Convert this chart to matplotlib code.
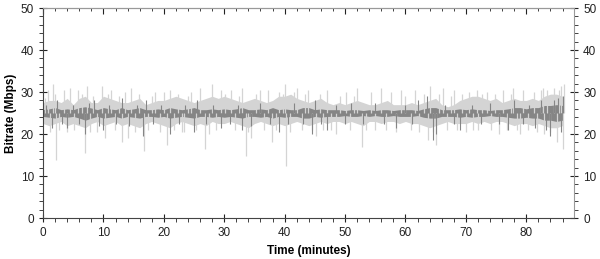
import matplotlib.pyplot as plt
import numpy as np

plt.rcParams['font.family'] = ['Liberation Sans', 'DejaVu Sans']

# time bins (minutes)
minutes = np.arange(0, 87)

# light grey band (peak bitrate), per minute
light_hi = [27.5, 28, 28, 27.5, 28.5, 27, 28.5, 29, 27.5, 27.5,
            29, 28.5, 28, 27.5, 27.5, 28, 28.5, 27, 27.5, 28,
            28, 28.5, 29, 28.5, 28, 27.5, 28, 28.5, 29, 28.5,
            29, 28.5, 28, 27.5, 28, 28.5, 28, 27.5, 28, 29,
            29, 29.5, 28.5, 28, 27.5, 28, 28.5, 27.5, 27, 27.5,
            27, 27.5, 28, 27.5, 27, 27, 27.5, 28, 27, 27,
            27, 27.5, 27, 27.5, 28, 28.5, 27, 26.5, 27, 28,
            28.5, 29, 29, 28.5, 28, 28.5, 27.5, 28, 28.5, 28,
            28, 28.5, 28, 29, 29.5, 29.5, 29]
light_lo = [22.5, 22, 22.5, 23, 22, 22.5, 22, 21.5, 22.5, 23,
            22, 22.5, 23, 22, 22.5, 22, 21.5, 22.5, 23, 22.5,
            22, 21.5, 22.5, 23, 22.5, 22, 22.5, 22, 23, 22.5,
            22.5, 23, 22.5, 22, 21.5, 22.5, 23, 22.5, 22, 22.5,
            22, 22.5, 23, 22.5, 22, 22.5, 23, 22.5, 23, 23,
            22.5, 23, 22.5, 22, 23, 23, 22.5, 23, 23, 22.5,
            23, 22.5, 22.5, 22, 21.5, 22, 22.5, 23, 22.5, 22.5,
            22.5, 23, 22.5, 23, 22.5, 23, 23, 22.5, 22, 22.5,
            22.5, 22, 22.5, 22, 21.5, 21.5, 22]
# dark grey band (average bitrate), per minute
dark_hi = [25.8, 26, 26.3, 25.8, 26, 25.8, 26.3, 26.5, 26.2, 25.8,
           26.3, 26, 25.8, 26.3, 25.8, 26, 26.3, 25.8, 25.8, 26,
           25.8, 26.3, 26, 25.8, 26, 26.3, 25.8, 25.8, 26, 25.8,
           26, 25.8, 26, 26.3, 25.8, 25.8, 26, 25.8, 26.3, 25.8,
           26, 25.8, 25.8, 26.3, 26.3, 25.8, 26, 25.8, 25.8, 25.8,
           25.6, 25.8, 25.8, 25.6, 25.8, 25.6, 25.8, 25.8, 25.6, 25.8,
           25.8, 25.8, 25.6, 26, 26.3, 26.3, 25.8, 25.8, 25.8, 26,
           25.8, 26, 25.8, 25.8, 25.6, 25.8, 25.8, 26, 26.3, 26.3,
           26, 26.3, 26.3, 26.8, 26.8, 27, 26.8]
dark_lo = [24.2, 24, 23.8, 24.2, 24, 24.2, 23.8, 23.3, 23.8, 24.2,
           23.8, 24, 24.2, 23.8, 24.2, 24, 23.8, 24.2, 24.2, 24,
           24.2, 23.8, 24, 24.2, 24, 23.8, 24.2, 24.2, 24, 24.2,
           24, 24.2, 24, 23.8, 24.2, 24.2, 24, 24.2, 23.8, 24.2,
           24, 24.2, 24.2, 23.8, 23.8, 24.2, 24, 24.2, 24.2, 24.2,
           24.4, 24.2, 24.2, 24.4, 24.2, 24.4, 24.2, 24.2, 24.4, 24.2,
           24.2, 24.2, 24.4, 24, 23.8, 23.8, 24.2, 24.2, 24.2, 24,
           24.2, 24, 24.2, 24.2, 24.4, 24.2, 24.2, 24, 23.8, 23.8,
           24, 23.8, 23.8, 23.3, 23.3, 23, 23.3]

# single-frame spikes of the light series
light_spike_t = [0.3, 0.8, 1.2, 1.6, 2.0, 2.2, 2.7, 3.4, 3.9, 4.5, 5.2, 5.8,
                 6.4, 6.9, 7.2, 7.7, 8.3, 9.0, 9.8, 10.3, 10.8, 11.2, 11.9,
                 12.5, 13.0, 13.5, 14.0, 14.6, 15.3, 15.9, 16.7, 17.4, 18.0,
                 18.5, 19.3, 20.1, 20.5, 21.0, 21.7, 22.4, 23.0, 23.4, 24.0,
                 24.5, 25.3, 26.0, 26.8, 27.4, 28.0, 28.7, 29.5, 30.2, 31.2,
                 31.8, 32.4, 33.0, 33.6, 34.0, 34.5, 35.2, 36.0, 36.6, 37.2,
                 37.9, 38.5, 39.1, 39.7, 40.0, 40.3, 40.9, 41.5, 42.0, 42.8,
                 43.3, 43.8, 44.5, 45.2, 45.9, 46.4, 47.0, 47.7, 48.5, 49.2,
                 50.2, 50.8, 51.4, 52.0, 52.8, 53.4, 54.3, 55.0, 56.0, 56.7,
                 57.6, 58.4, 59.3, 60.0, 60.9, 61.5, 62.2, 63.0, 63.8, 64.1,
                 64.6, 65.0, 65.6, 66.2, 66.9, 67.5, 68.0, 68.5, 69.3, 70.0,
                 70.5, 71.2, 71.8, 72.0, 72.7, 73.5, 74.2, 74.8, 75.5, 76.2,
                 76.8, 77.4, 77.8, 78.5, 79.0, 79.5, 80.3, 81.2, 81.8, 82.4,
                 82.8, 83.0, 83.5, 84.0, 84.6, 85.0, 85.4, 85.7, 86.0, 86.3]
light_spike_v = [28.5, 30.5, 20.5, 31.8, 29.5, 13.8, 21.0, 30.5, 20.5, 31.0, 21.0, 30.5,
                 29.5, 15.5, 31.5, 20.5, 29.0, 20.5, 31.5, 19.0, 29.5, 30.5, 21.0,
                 29.0, 18.0, 30.0, 19.0, 31.0, 20.5, 29.5, 16.0, 21.0, 29.0,
                 30.0, 20.5, 30.0, 17.5, 30.5, 21.0, 29.5, 20.5, 20.5, 29.0,
                 30.0, 21.0, 31.0, 16.5, 20.0, 32.0, 21.0, 30.5, 29.5, 30.5,
                 21.0, 29.0, 31.0, 14.8, 20.5, 19.0, 29.5, 30.5, 21.0, 30.5,
                 18.0, 21.0, 30.0, 29.5, 32.0, 12.5, 20.5, 30.0, 31.0, 21.0,
                 29.5, 30.5, 21.0, 19.5, 29.5, 21.0, 30.5, 21.0, 20.0, 29.0,
                 30.0, 21.0, 29.0, 31.0, 17.0, 21.0, 30.0, 21.0, 31.0, 21.0,
                 30.0, 20.5, 30.5, 29.0, 21.0, 30.5, 20.5, 29.5, 18.5, 31.5,
                 20.5, 17.5, 29.5, 31.0, 21.0, 29.0, 30.5, 21.0, 29.5, 20.5,
                 30.0, 21.0, 30.5, 21.0, 29.5, 30.0, 21.0, 29.5, 20.0, 30.5,
                 21.0, 29.5, 31.0, 21.0, 20.0, 30.5, 21.0, 30.0, 20.5, 30.5,
                 31.0, 20.0, 30.5, 20.5, 31.0, 18.0, 30.5, 31.5, 16.5, 32.0]

# spikes of the dark series
dark_spike_t = [0.5, 1.5, 2.3, 3.2, 4.0, 5.0, 6.0, 7.0, 7.6, 8.5, 9.3, 10.0,
                11.0, 12.0, 13.0, 14.2, 15.5, 16.5, 17.0, 18.2, 19.5, 21.0,
                22.5, 23.5, 25.0, 25.5, 27.0, 28.2, 29.5, 31.0, 32.2, 33.0,
                34.5, 36.0, 37.5, 39.0, 40.5, 41.5, 43.0, 44.5, 45.0, 46.0,
                47.0, 48.5, 50.0, 51.0, 53.0, 55.0, 56.5, 58.5, 60.0, 61.0,
                62.0, 63.5, 64.5, 65.0, 66.5, 68.0, 69.0, 71.0, 72.5, 74.0,
                75.5, 77.0, 78.0, 79.5, 80.5, 81.5, 82.5, 83.2, 84.0, 84.6,
                85.2, 85.8, 86.0]
dark_spike_v = [27.0, 21.5, 28.0, 22.5, 21.5, 27.0, 22.5, 20.0, 27.5, 28.0, 22.0, 21.0,
                27.0, 22.5, 28.5, 22.0, 27.0, 19.5, 28.0, 22.5, 27.0, 20.0,
                22.5, 27.0, 20.5, 28.0, 22.5, 27.0, 21.5, 22.5, 27.0, 21.0,
                22.0, 27.5, 22.5, 20.5, 22.5, 27.5, 22.5, 20.0, 28.0, 22.5,
                21.0, 27.0, 22.5, 27.5, 22.5, 27.5, 22.5, 21.5, 27.0, 22.5,
                28.0, 29.0, 18.5, 20.0, 27.0, 22.5, 21.0, 27.0, 22.5, 27.5,
                22.5, 21.0, 28.0, 22.5, 27.0, 21.5, 28.0, 21.0, 19.5, 28.0,
                28.5, 20.5, 29.0]

light = '#d4d4d4'
dark = '#858585'

fig = plt.figure(figsize=(6, 2.59), dpi=100)
ax = fig.add_axes([0.0717, 0.158, 0.885, 0.811])

ax.fill_between(minutes, light_lo, light_hi, color=light, lw=0)
ax.vlines(light_spike_t, 25, light_spike_v, color=light, lw=0.9)
ax.fill_between(minutes, dark_lo, dark_hi, color=dark, lw=0)
ax.vlines(dark_spike_t, 25, dark_spike_v, color=dark, lw=0.8)

ax.set_xlim(0, 87.9)
ax.set_ylim(0, 50)
ax.set_xticks(np.arange(0, 81, 10))
ax.set_xticks(np.arange(0, 88, 2), minor=True)
ax.set_yticks(np.arange(0, 51, 10))
ax.set_yticks(np.arange(0, 51, 2), minor=True)

ax.tick_params(axis='both', which='both', labelsize=8.5, colors='#222222',
               right=True, labelright=True)
ax.tick_params(axis='x', which='major', direction='inout', length=6)
ax.tick_params(axis='x', which='minor', direction='out', length=3)
ax.tick_params(axis='y', which='major', direction='inout', length=6)
ax.tick_params(axis='y', which='minor', direction='out', length=3)

# top axis: ticks pointing inward, no labels
top = ax.secondary_xaxis('top')
top.set_xticks(np.arange(0, 81, 10))
top.set_xticks(np.arange(0, 88, 2), minor=True)
top.tick_params(which='both', direction='in', labeltop=False, colors='#222222')
top.tick_params(which='major', length=4)
top.tick_params(which='minor', length=2)
top.spines['top'].set_color('#999999')

for s in ['left', 'bottom']:
    ax.spines[s].set_color('#444444')
for s in ['top', 'right']:
    ax.spines[s].set_color('#999999')

ax.set_xlabel('Time (minutes)', fontsize=8.5, fontweight='bold', labelpad=4)
ax.set_ylabel('Bitrate (Mbps)', fontsize=8.5, fontweight='bold', labelpad=3)

fig.savefig('out.png', dpi=100)
